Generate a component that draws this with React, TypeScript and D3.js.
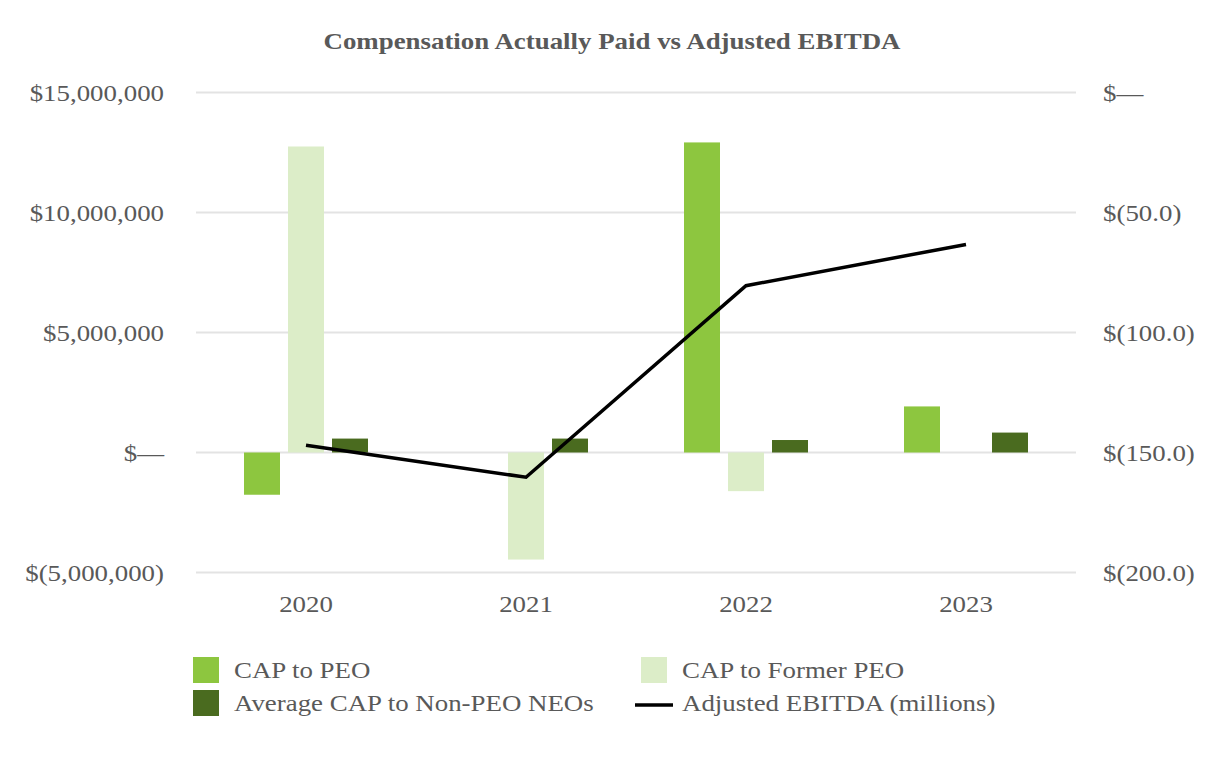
import { useEffect, useRef } from 'react';
import * as d3 from 'd3';

const years = ['2020', '2021', '2022', '2023'];
const capToPeo: (number | null)[] = [-1760000, null, 12920000, 1920000];
const capToFormerPeo: (number | null)[] = [12750000, -4460000, -1610000, null];
const avgCapNonPeo: (number | null)[] = [580000, 580000, 520000, 830000];
const adjustedEbitda = [-147.0, -160.3, -80.5, -63.3];

const leftTicks = [-5000000, 0, 5000000, 10000000, 15000000];
const rightTicks = [-200, -150, -100, -50, 0];

const seriesNames = ['CAP to PEO', 'CAP to Former PEO', 'Average CAP to Non-PEO NEOs'];
const seriesColors = ['#8DC63F', '#DCEDC8', '#4A6B1F'];

const W = 1226;
const H = 760;
const FONT = '"Liberation Serif", "Times New Roman", serif';
const TEXT = '#595959';
const STRETCH = 1.12; // glyphs in the reference are a bit wider than the font

function fmtLeft(v: number) {
  if (v === 0) return '$—';
  if (v < 0) return `$(${d3.format(',')(-v)})`;
  return `$${d3.format(',')(v)}`;
}

function fmtRight(v: number) {
  if (v === 0) return '$—';
  if (v < 0) return `$(${(-v).toFixed(1)})`;
  return `$${v.toFixed(1)}`;
}

const at = (x: number, y: number) => `translate(${x},${y}) scale(${STRETCH},1)`;

export default function App() {
  const svgRef = useRef<SVGSVGElement>(null);

  useEffect(() => {
    if (!svgRef.current) return;
    const svg = d3.select(svgRef.current);
    svg.selectAll('*').remove();

    const left = 196, right = 1076, top = 92.5, bottom = 572.5;

    const x = d3.scaleBand().domain(years).range([left, right]);
    const y = d3.scaleLinear().domain([-5000000, 15000000]).range([bottom, top]);
    const y2 = d3.scaleLinear().domain([-200, 0]).range([bottom, top]);

    // title
    svg.append('text')
      .attr('transform', at(612, 49))
      .attr('text-anchor', 'middle')
      .style('font-family', FONT).style('font-weight', 'bold').style('font-size', '24px')
      .style('fill', TEXT)
      .text('Compensation Actually Paid vs Adjusted EBITDA');

    // grid
    svg.append('g').selectAll('line').data(leftTicks).enter().append('line')
      .attr('x1', left).attr('x2', right)
      .attr('y1', d => y(d)).attr('y2', d => y(d))
      .attr('stroke', '#e3e3e3').attr('stroke-width', 2);

    // left axis labels
    svg.append('g').selectAll('text').data(leftTicks).enter().append('text')
      .attr('transform', d => at(164, y(d)))
      .attr('dy', '0.35em')
      .attr('text-anchor', 'end')
      .style('font-family', FONT).style('font-size', '24px').style('fill', TEXT)
      .text(d => fmtLeft(d));

    // right axis labels
    svg.append('g').selectAll('text').data(rightTicks).enter().append('text')
      .attr('transform', d => at(1103, y2(d)))
      .attr('dy', '0.35em')
      .attr('text-anchor', 'start')
      .style('font-family', FONT).style('font-size', '24px').style('fill', TEXT)
      .text(d => fmtRight(d));

    // year labels
    svg.append('g').selectAll('text').data(years).enter().append('text')
      .attr('transform', d => at((x(d) || 0) + x.bandwidth() / 2, 612))
      .attr('text-anchor', 'middle')
      .style('font-family', FONT).style('font-size', '24px').style('fill', TEXT)
      .text(d => d);

    // bars
    const barW = 36;
    const offsets = [-44, 0, 44];
    const allSeries = [capToPeo, capToFormerPeo, avgCapNonPeo];
    allSeries.forEach((vals, si) => {
      svg.append('g').selectAll('rect')
        .data(vals.map((v, i) => ({ v, year: years[i] })).filter(d => d.v !== null))
        .enter().append('rect')
        .attr('x', d => (x(d.year) || 0) + x.bandwidth() / 2 + offsets[si] - barW / 2)
        .attr('width', barW)
        .attr('y', d => y(Math.max(0, d.v as number)))
        .attr('height', d => Math.abs(y(d.v as number) - y(0)))
        .attr('fill', seriesColors[si]);
    });

    // line
    const line = d3.line<number>()
      .x((_, i) => (x(years[i]) || 0) + x.bandwidth() / 2)
      .y(d => y2(d));
    svg.append('path')
      .datum(adjustedEbitda)
      .attr('d', line)
      .attr('fill', 'none')
      .attr('stroke', '#000')
      .attr('stroke-width', 3.5);

    // legend
    const legendItems = [
      { label: seriesNames[0], color: seriesColors[0], type: 'rect', lx: 193, ly: 657 },
      { label: seriesNames[1], color: seriesColors[1], type: 'rect', lx: 641, ly: 657 },
      { label: seriesNames[2], color: seriesColors[2], type: 'rect', lx: 193, ly: 690 },
      { label: 'Adjusted EBITDA (millions)', color: '#000', type: 'line', lx: 635, ly: 690 },
    ];
    const lg = svg.append('g');
    legendItems.forEach(item => {
      if (item.type === 'rect') {
        lg.append('rect')
          .attr('x', item.lx).attr('y', item.ly)
          .attr('width', 26).attr('height', 26)
          .attr('fill', item.color);
      } else {
        lg.append('line')
          .attr('x1', item.lx).attr('x2', item.lx + 38)
          .attr('y1', item.ly + 15).attr('y2', item.ly + 15)
          .attr('stroke', item.color).attr('stroke-width', 3.5);
      }
      lg.append('text')
        .attr('transform', at(item.type === 'rect' ? item.lx + 41 : item.lx + 47, item.ly + 13))
        .attr('dy', '0.35em')
        .style('font-family', FONT).style('font-size', '24px').style('fill', TEXT)
        .text(item.label);
    });
  }, []);

  return (
    <div style={{ position: 'fixed', left: 0, top: 0, width: W, height: H, background: '#fff' }}>
      <svg ref={svgRef} width={W} height={H}></svg>
    </div>
  );
}
